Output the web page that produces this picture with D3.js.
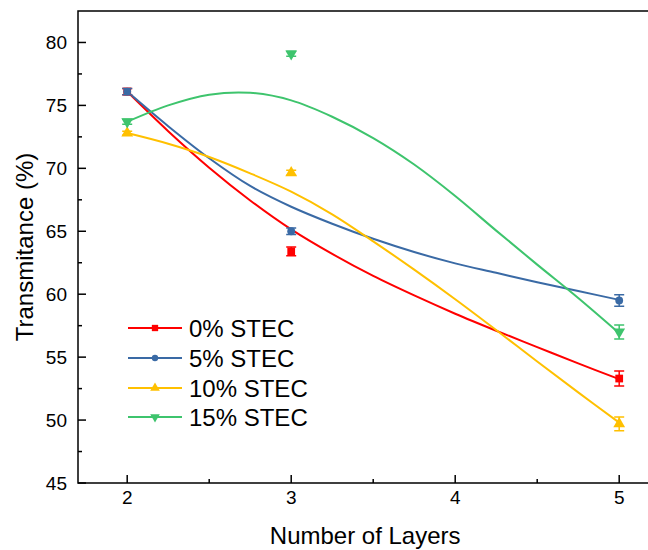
<!DOCTYPE html>
<html>
<head>
<meta charset="utf-8">
<script src="https://cdn.jsdelivr.net/npm/d3@7"></script>
<style>
  body { margin: 0; background: #fff; }
  svg { display: block; font-family: "Liberation Sans", Arial, sans-serif; }
</style>
</head>
<body>
<svg id="chart"></svg>
<script>
//data
const layers = [2, 3, 5];
const seriesNames = ["0% STEC", "5% STEC", "10% STEC", "15% STEC"];
const stec0 = [76.1, 63.4, 53.3];
const stec5 = [76.1, 65.0, 59.5];
const stec10 = [72.8, 69.65, 49.7];
const stec15 = [73.7, 79.1, 57.0];
const stec0Err = [0.25, 0.35, 0.6];
const stec5Err = [0.25, 0.25, 0.45];
const stec10Err = [0.15, 0.2, 0.55];
const stec15Err = [0.2, 0.2, 0.55];

// fitted curves
const fitX = [2, 2.25, 2.5, 2.75, 3, 3.25, 3.5, 3.75, 4, 4.25, 4.5, 4.75, 5];
const fit0 = [76.1, 72.95, 70.05, 67.45, 65.15, 63.2, 61.45, 59.9, 58.45, 57.1, 55.8, 54.5, 53.25];
const fit5 = [76.1, 73.35, 70.8, 68.6, 66.95, 65.6, 64.4, 63.35, 62.45, 61.7, 60.95, 60.25, 59.55];
const fit10 = [72.8, 71.95, 70.9, 69.6, 68.15, 66.35, 64.2, 61.95, 59.6, 57.15, 54.65, 52.2, 49.8];
const fit15 = [73.7, 75.0, 75.85, 76.0, 75.4, 74.1, 72.4, 70.3, 67.8, 65.05, 62.35, 59.7, 56.9];

const xTicks = [2, 3, 4, 5];
const yTicks = [45, 50, 55, 60, 65, 70, 75, 80];

const colors = ["#ff0000", "#3a6aa5", "#ffc000", "#3ec46d"];
const shapes = ["square", "circle", "up", "down"];

const series = [
    { name: seriesNames[0], values: stec0, err: stec0Err, fit: fit0 },
    { name: seriesNames[1], values: stec5, err: stec5Err, fit: fit5 },
    { name: seriesNames[2], values: stec10, err: stec10Err, fit: fit10 },
    { name: seriesNames[3], values: stec15, err: stec15Err, fit: fit15 }
];

const svgWidth = 648, svgHeight = 550;
const plotLeft = 78, plotTop = 11, plotBottom = 483;

const svg = d3.select('#chart')
    .attr("width", svgWidth)
    .attr("height", svgHeight);

const x = d3.scaleLinear().domain([1.7, 5.2]).range([plotLeft, plotLeft + 164 * 3.5]);
const y = d3.scaleLinear().domain([45, 82.5]).range([plotBottom, plotTop]);

function marker(shape, size) {
    if (shape === "square") return d3.symbol(d3.symbolSquare, size)();
    if (shape === "circle") return d3.symbol(d3.symbolCircle, size * 0.8)();
    return d3.symbol(d3.symbolTriangle, size)();
}

// frame (top + left + bottom, right is cut off)
svg.append("path")
    .attr("d", `M${svgWidth + 5},${plotTop}H${plotLeft}V${plotBottom}H${svgWidth + 5}`)
    .attr("fill", "none")
    .attr("stroke", "#000")
    .attr("stroke-width", 1.5);

// y ticks
const yMinor = d3.range(47.5, 82.5, 5);
svg.selectAll(".ytick")
    .data(yTicks)
    .enter()
    .append("line")
    .attr("x1", plotLeft).attr("x2", plotLeft + 8)
    .attr("y1", d => y(d)).attr("y2", d => y(d))
    .attr("stroke", "#000").attr("stroke-width", 1.5);
svg.selectAll(".yminor")
    .data(yMinor)
    .enter()
    .append("line")
    .attr("x1", plotLeft).attr("x2", plotLeft + 4)
    .attr("y1", d => y(d)).attr("y2", d => y(d))
    .attr("stroke", "#000").attr("stroke-width", 1.5);
svg.selectAll(".ylabel")
    .data(yTicks)
    .enter()
    .append("text")
    .attr("x", plotLeft - 11)
    .attr("y", d => y(d))
    .attr("dy", "0.36em")
    .attr("text-anchor", "end")
    .attr("font-size", 19)
    .text(d => d);

// x ticks
const xMinor = [2.5, 3.5, 4.5];
svg.selectAll(".xtick")
    .data(xTicks)
    .enter()
    .append("line")
    .attr("x1", d => x(d)).attr("x2", d => x(d))
    .attr("y1", plotBottom).attr("y2", plotBottom - 8)
    .attr("stroke", "#000").attr("stroke-width", 1.5);
svg.selectAll(".xminor")
    .data(xMinor)
    .enter()
    .append("line")
    .attr("x1", d => x(d)).attr("x2", d => x(d))
    .attr("y1", plotBottom).attr("y2", plotBottom - 4)
    .attr("stroke", "#000").attr("stroke-width", 1.5);
svg.selectAll(".xlabel")
    .data(xTicks)
    .enter()
    .append("text")
    .attr("x", d => x(d))
    .attr("y", 504)
    .attr("text-anchor", "middle")
    .attr("font-size", 19)
    .text(d => d);

// axis titles
svg.append("text")
    .attr("x", x(3.5) - 8)
    .attr("y", 544)
    .attr("text-anchor", "middle")
    .attr("font-size", 24)
    .text("Number of Layers");
svg.append("text")
    .attr("transform", "translate(33," + (plotTop + plotBottom) / 2 + ") rotate(-90)")
    .attr("text-anchor", "middle")
    .attr("font-size", 24)
    .text("Transmitance (%)");

// fit curves
const line = d3.line()
    .x((d, i) => x(fitX[i]))
    .y(d => y(d))
    .curve(d3.curveCatmullRom);

series.forEach(function (s, k) {
    svg.append("path")
        .attr("d", line(s.fit))
        .attr("fill", "none")
        .attr("stroke", colors[k])
        .attr("stroke-width", 2);
});

// error bars + markers
series.forEach(function (s, k) {
    const g = svg.append("g");
    s.values.forEach(function (v, i) {
        const cx = x(layers[i]);
        const lo = y(v - s.err[i]), hi = y(v + s.err[i]);
        g.append("path")
            .attr("d", `M${cx - 5},${hi}H${cx + 5}M${cx},${hi}V${lo}M${cx - 5},${lo}H${cx + 5}`)
            .attr("fill", "none")
            .attr("stroke", colors[k])
            .attr("stroke-width", 1.5);
        g.append("path")
            .attr("d", marker(shapes[k], 60))
            .attr("transform", "translate(" + cx + "," + y(v) + ")" + (shapes[k] === "down" ? " rotate(180)" : ""))
            .attr("fill", colors[k]);
    });
});

// legend
const legendRows = [328, 358, 388, 417];
series.forEach(function (s, k) {
    const ly = legendRows[k];
    svg.append("line")
        .attr("x1", 128).attr("x2", 182)
        .attr("y1", ly).attr("y2", ly)
        .attr("stroke", colors[k]).attr("stroke-width", 2);
    svg.append("path")
        .attr("d", marker(shapes[k], 40))
        .attr("transform", "translate(155," + ly + ")" + (shapes[k] === "down" ? " rotate(180)" : ""))
        .attr("fill", colors[k]);
    svg.append("text")
        .attr("x", 189)
        .attr("y", ly)
        .attr("dy", "0.36em")
        .attr("font-size", 24)
        .text(s.name);
});
</script>
</body>
</html>
